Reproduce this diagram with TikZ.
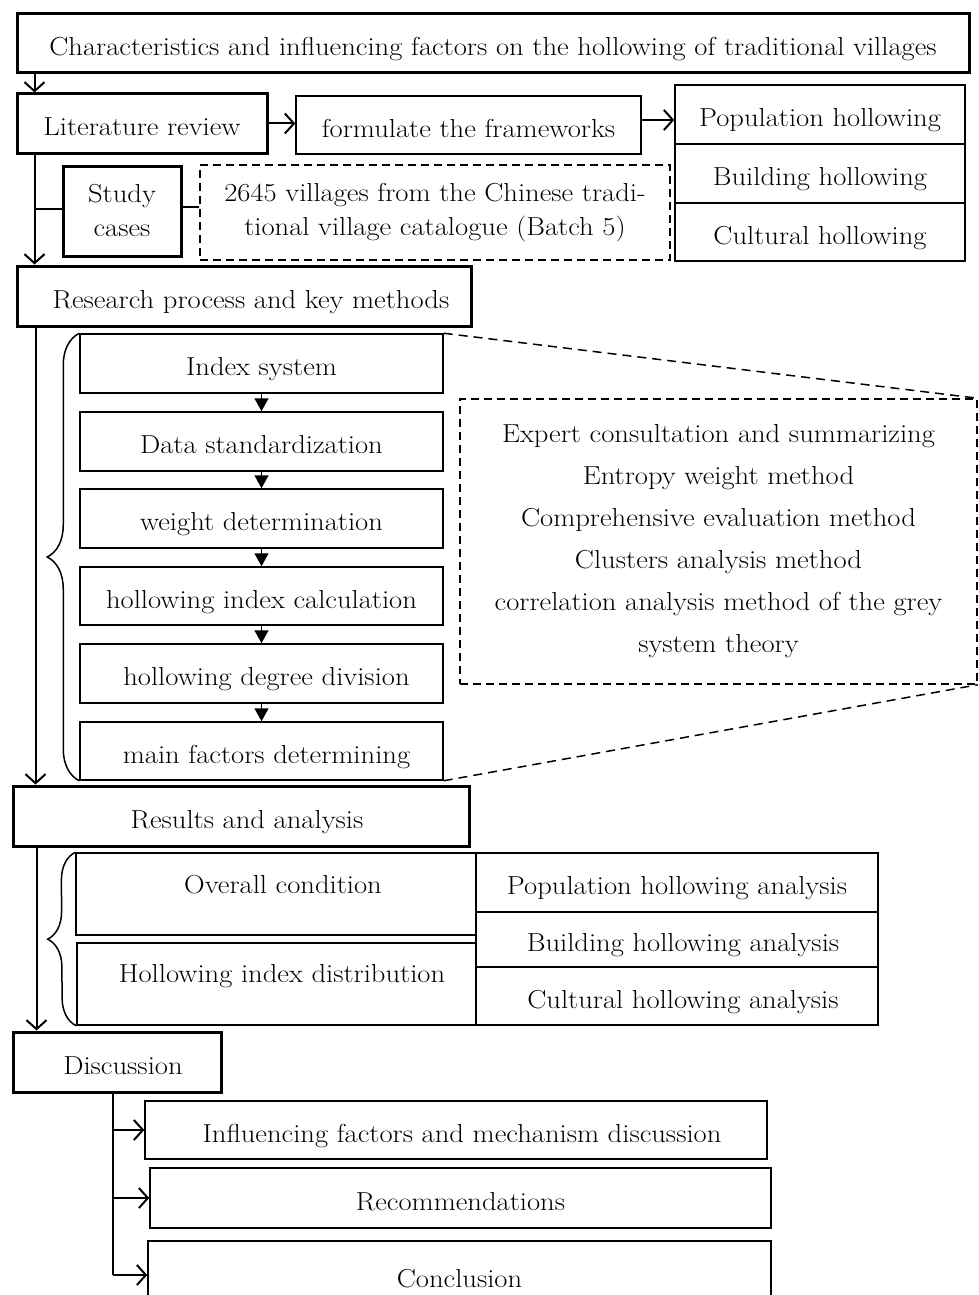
\documentclass[tikz,border=0pt]{standalone}
\usepackage{fontspec}
\setmainfont{Latin Modern Roman}[FakeStretch=1.1]
\usetikzlibrary{arrows.meta,decorations.pathreplacing}
\begin{document}
\begin{tikzpicture}[x=1pt,y=-1pt,
  fnt/.style={font=\fontsize{26}{34}\selectfont},
  lowtxt/.style={text height=24pt, text depth=0pt},
  thickbox/.style={draw, line width=3pt, inner sep=0pt, fnt, align=center},
  thinbox/.style={draw, line width=1.5pt, inner sep=0pt, fnt, align=center, lowtxt},
  dashbox/.style={draw, line width=1.5pt, dash pattern=on 8pt off 5pt, inner sep=0pt, fnt, align=center},
  sz/.style 2 args={minimum width=#1pt, minimum height=#2pt},
  conn/.style={line width=2pt},
  oarrow/.style={conn, -{Straight Barb[length=9pt,width=20pt,line width=2pt]}},
  farrow/.style={line width=1.5pt, -{Triangle[length=13pt,width=14pt]}},
  zoomline/.style={line width=1.5pt, dash pattern=on 9pt off 6pt},
  bracestyle/.style={line width=1.5pt, decorate}
]
\useasboundingbox (0,0) rectangle (979,1295);

% top
\node[thickbox, lowtxt, sz={952}{59}] (title) at (493,43.5) {Characteristics and influencing factors on the hollowing of traditional villages};
\node[thickbox, lowtxt, sz={250}{59}] (lit) at (142,123.5) {Literature review};
\node[thinbox, sz={345}{58}] (frame) at (468.5,125) {formulate the frameworks};
\node[thinbox, sz={290}{59}] (pop) at (820,114.5) {Population hollowing};
\node[thinbox, sz={290}{59}] (bld) at (820,173.5) {Building hollowing};
\node[thinbox, sz={290}{58}] (cul) at (820,232) {Cultural hollowing};
\node[thickbox, sz={118}{90}] (study) at (122,211) {Study\\cases};
\node[dashbox, sz={470}{95}] (vill) at (435,212.5) {2645 villages from the Chinese tradi-\\tional village catalogue (Batch 5)};

% research
\node[thickbox, lowtxt, sz={454}{60}] (res) at (244,296) {\hspace*{14pt}Research process and key methods};
\node[thinbox, sz={363}{59}] (idx1) at (261.5,363.5) {Index system};
\node[thinbox, sz={363}{59}] (idx2) at (261.5,441.5) {Data standardization};
\node[thinbox, sz={363}{59}] (idx3) at (261.5,518.5) {weight determination};
\node[thinbox, sz={363}{58}] (idx4) at (261.5,596) {hollowing index calculation};
\node[thinbox, sz={363}{59}] (idx5) at (261.5,673.5) {\hspace*{10pt}hollowing degree division};
\node[thinbox, sz={363}{58}] (idx6) at (261.5,751) {\hspace*{10pt}main factors determining};
\node[dashbox, sz={517}{285}, font=\fontsize{26}{42}\selectfont] (meth) at (718.5,541.5)
  {Expert consultation and summarizing\\Entropy weight method\\Comprehensive evaluation method\\Clusters analysis method\\correlation analysis method of the grey\\system theory};

% results
\node[thickbox, lowtxt, sz={456}{60}] (resl) at (241,816) {\hspace*{12pt}Results and analysis};
\node[thinbox, sz={400}{82}] (ov) at (276,894) {};
\node[fnt] (ovt) at (283,885) {Overall condition};
\node[thinbox, sz={399}{82}] (hid) at (276.5,984) {};
\node[fnt] (hidt) at (282,976) {Hollowing index distribution};
\node[thinbox, sz={402}{59}] (pa) at (677,882.5) {Population hollowing analysis};
\node[thinbox, sz={402}{55}] (ba) at (677,939.5) {\hspace*{12pt}Building hollowing analysis};
\node[thinbox, sz={402}{58}] (ca) at (677,996) {\hspace*{12pt}Cultural hollowing analysis};

% discussion
\node[thickbox, lowtxt, sz={208}{60}] (disc) at (117,1062) {\hspace*{12pt}Discussion};
\node[thinbox, sz={622}{58}] (inf) at (456,1130) {\hspace*{12pt}Influencing factors and mechanism discussion};
\node[thinbox, sz={621}{60}] (rec) at (460.5,1198) {Recommendations};
\node[thinbox, sz={623}{68}] (con) at (459.5,1275) {Conclusion};

% connectors
\draw[oarrow] ([xshift=19pt]title.south west) -- ([xshift=19pt]lit.north west);
\draw[oarrow] (lit.east) -- (lit.east -| frame.west);
\draw[oarrow] ([yshift=5pt]frame.east) -- ([yshift=5pt]frame.east -| pop.west);
\coordinate (vl1) at ([xshift=19pt]lit.south west);
\draw[oarrow] (vl1) -- (vl1 |- res.north);
\draw[conn] ([yshift=2pt]study.west) -- ([yshift=2pt]study.west -| vl1);
\draw[conn] ([yshift=4pt]study.east) -- ([yshift=4pt]study.east -| vill.west);

\coordinate (vl2) at ([xshift=20pt]res.south west);
\draw[oarrow] (vl2) -- (vl2 |- resl.north);
\draw[bracestyle, decoration={brace, amplitude=32pt, aspect=0.5}] (idx6.south west) -- (idx1.north west);
\foreach \a/\b in {idx1/idx2, idx2/idx3, idx3/idx4, idx4/idx5, idx5/idx6}
  \draw[farrow] (\a.south) -- (\b.north);
\draw[zoomline] (idx1.north east) -- (meth.north east);
\draw[zoomline] (idx6.south east) -- (meth.south east);

\coordinate (vl3) at ([xshift=25pt]resl.south west);
\draw[oarrow] (vl3) -- (vl3 |- disc.north);
\draw[bracestyle, decoration={brace, amplitude=28pt, aspect=0.5}] (hid.south west) -- (ov.north west);

\coordinate (vl4) at ([xshift=101pt]disc.south west);
\draw[conn] (vl4) -- (vl4 |- con.west);
\draw[oarrow] (vl4 |- inf.west) -- (inf.west);
\draw[oarrow] (vl4 |- rec.west) -- (rec.west);
\draw[oarrow] (vl4 |- con.west) -- (con.west);
\end{tikzpicture}
\end{document}
